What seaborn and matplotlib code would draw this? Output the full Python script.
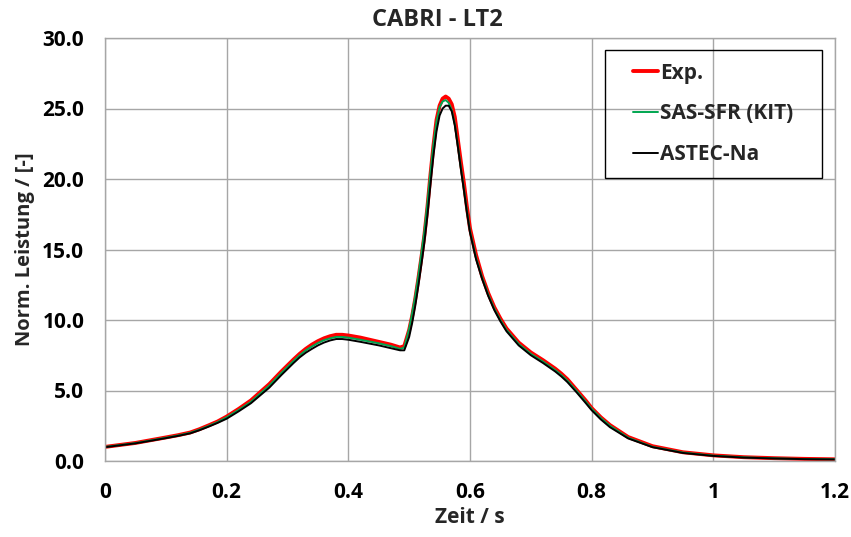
import matplotlib
matplotlib.use("Agg")
import matplotlib.pyplot as plt
import seaborn as sns
import pandas as pd
from matplotlib.patches import Rectangle

# ---- data ----
time_s = [0.00, 0.05, 0.10, 0.12, 0.14, 0.155, 0.17, 0.185, 0.20, 0.22, 0.24, 0.27, 0.29,
          0.31, 0.32, 0.33, 0.34, 0.35, 0.36, 0.37, 0.38, 0.39, 0.40,
          0.42, 0.45, 0.47, 0.485, 0.492, 0.50, 0.505, 0.51, 0.515, 0.52, 0.525, 0.53,
          0.535, 0.54, 0.545, 0.55, 0.555, 0.56, 0.565, 0.57, 0.575, 0.58, 0.585, 0.59,
          0.595, 0.60, 0.61, 0.62, 0.63, 0.64, 0.65, 0.66, 0.68,
          0.70, 0.72, 0.74, 0.75, 0.76, 0.775, 0.79, 0.80, 0.815, 0.83,
          0.86, 0.90, 0.95, 1.00, 1.05, 1.10, 1.15, 1.20]

exp_vals = [1.00, 1.28, 1.67, 1.83, 2.02, 2.25, 2.52, 2.80, 3.15, 3.70, 4.30, 5.45, 6.35,
            7.20, 7.60, 7.95, 8.25, 8.50, 8.70, 8.85, 8.95, 8.95, 8.90,
            8.75, 8.45, 8.25, 8.05, 8.15, 9.3, 10.3, 11.5, 12.9, 14.4, 16.0, 18.0,
            20.3, 22.4, 24.2, 25.2, 25.7, 25.85, 25.7, 25.3, 24.4, 22.8, 21.2, 19.7,
            18.0, 16.5, 14.6, 13.1, 11.9, 10.9, 10.1, 9.4, 8.4,
            7.70, 7.15, 6.55, 6.20, 5.80, 5.05, 4.30, 3.75, 3.10, 2.55,
            1.70, 1.05, 0.62, 0.40, 0.27, 0.20, 0.15, 0.12]

sas_vals = [1.00, 1.27, 1.65, 1.81, 2.00, 2.22, 2.48, 2.76, 3.10, 3.63, 4.20, 5.35, 6.25,
            7.10, 7.50, 7.85, 8.12, 8.37, 8.57, 8.70, 8.80, 8.80, 8.75,
            8.60, 8.35, 8.15, 7.95, 8.05, 9.4, 10.5, 11.7, 13.1, 14.7, 16.3, 18.3,
            20.5, 22.5, 24.1, 25.1, 25.5, 25.6, 25.4, 24.9, 23.9, 22.4, 20.8, 19.3,
            17.7, 16.3, 14.4, 13.0, 11.8, 10.8, 10.0, 9.3, 8.3,
            7.60, 7.05, 6.45, 6.10, 5.70, 4.98, 4.22, 3.70, 3.05, 2.50,
            1.65, 1.00, 0.60, 0.38, 0.26, 0.19, 0.14, 0.12]

astec_vals = [0.98, 1.25, 1.62, 1.78, 1.96, 2.18, 2.43, 2.70, 3.00, 3.53, 4.10, 5.20, 6.10,
              6.95, 7.35, 7.68, 7.95, 8.20, 8.40, 8.55, 8.65, 8.65, 8.60,
              8.45, 8.20, 8.00, 7.85, 7.85, 8.8, 9.8, 11.0, 12.4, 13.9, 15.5, 17.4,
              19.6, 21.7, 23.4, 24.5, 25.0, 25.2, 25.2, 24.8, 23.8, 22.3, 20.7, 19.2,
              17.6, 16.2, 14.3, 12.9, 11.7, 10.7, 9.9, 9.2, 8.2,
              7.50, 6.95, 6.35, 6.00, 5.60, 4.88, 4.12, 3.60, 2.95, 2.40,
              1.60, 0.98, 0.57, 0.36, 0.24, 0.18, 0.13, 0.11]

series_names = ["Exp.", "SAS-SFR (KIT)", "ASTEC-Na"]
x_ticks = [0, 0.2, 0.4, 0.6, 0.8, 1.0, 1.2]
x_tick_labels = ["0", "0.2", "0.4", "0.6", "0.8", "1", "1.2"]
y_ticks = [0, 5, 10, 15, 20, 25, 30]
y_tick_labels = ["0.0", "5.0", "10.0", "15.0", "20.0", "25.0", "30.0"]

# ---- style ----
sns.set_style("white")
plt.rcParams["font.family"] = ["Open Sans", "DejaVu Sans"]
plt.rcParams["font.weight"] = "bold"

fig = plt.figure(figsize=(8.51, 5.37), dpi=100)
ax = fig.add_axes([105 / 851, 1 - 461 / 537, 730 / 851, 423 / 537])

grid_col = "#a6a6a6"
colors = ["#ff0000", "#00a650", "#000000"]
widths = [2.8, 1.4, 1.4]

for name, vals, c, lw in zip(series_names, [exp_vals, sas_vals, astec_vals], colors, widths):
    df = pd.DataFrame({"t": time_s, "v": vals})
    sns.lineplot(data=df, x="t", y="v", ax=ax, color=c, linewidth=lw,
                 label=name, estimator=None, sort=False)

ax.set_xlim(0, 1.2)
ax.set_ylim(0, 30)
ax.set_xticks(x_ticks)
ax.set_xticklabels(x_tick_labels)
ax.set_yticks(y_ticks)
ax.set_yticklabels(y_tick_labels)
ax.grid(True, color=grid_col, linewidth=1.0)
ax.set_axisbelow(True)
for s in ax.spines.values():
    s.set_color(grid_col)
    s.set_linewidth(1.0)
ax.tick_params(axis="both", direction="out", length=6, width=1.0, color=grid_col,
               labelsize=15, pad=9, labelcolor="black")
for lab in ax.get_xticklabels() + ax.get_yticklabels():
    lab.set_fontweight("bold")

ax.set_xlabel("Zeit / s", fontsize=15, fontweight="bold", labelpad=3)
ax.set_ylabel("Norm. Leistung / [-]", fontsize=14.5, fontweight="bold", labelpad=5)
fig.text(437 / 851, 1 - 20 / 537, "CABRI - LT2", fontsize=17, fontweight="bold",
         ha="center", va="center")

leg = ax.legend(loc="center", bbox_to_anchor=((713.5 - 105) / 730, (461 - 113.9) / 423),
                frameon=False, prop={"size": 15, "weight": "bold"},
                handlelength=1.2, handletextpad=0.1, labelspacing=0.95)
ax.add_patch(Rectangle(((605 - 105) / 730, (461 - 177.7) / 423), 217 / 730, 127.7 / 423,
                       transform=ax.transAxes, fill=False, edgecolor="black",
                       linewidth=1.0, zorder=5))

fig.savefig("out.png", dpi=100)
